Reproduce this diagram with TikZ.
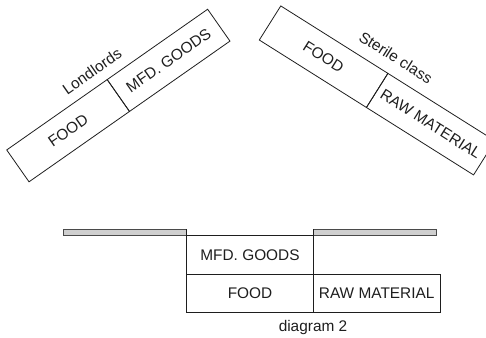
\documentclass[tikz,border=0pt]{standalone}
\usepackage{fontspec}
\setmainfont{Liberation Sans}
\usetikzlibrary{calc}
\definecolor{ink}{HTML}{1E1E1E}
\definecolor{barfill}{HTML}{CFCFCF}
\definecolor{barline}{HTML}{4A4A4A}
\tikzset{
  cell/.style={draw=ink, line width=0.8pt, inner sep=0pt, outer sep=0pt, text=ink,
    font=\fontsize{15.4}{18}\selectfont},
  lbl/.style={inner sep=0pt, text=ink, font=\fontsize{15.4}{18}\selectfont},
  bar/.style={draw=barline, fill=barfill, line width=0.8pt},
  wall/.style={draw=ink, line width=0.8pt}
}
\begin{document}
\begin{tikzpicture}[x=1pt, y=-1pt]
\useasboundingbox (0,0) rectangle (486,337);
\clip (0,0) rectangle (486,337);
% Landlords rotated box
\node[cell, rotate=35, minimum width=122.65pt, minimum height=38.9pt] (lfood) at (68.1,130.7) {FOOD};
\node[cell, rotate=35, minimum width=122.65pt, minimum height=38.9pt, anchor=west] (lmfd) at (lfood.east) {MFD. GOODS};
\node[lbl, rotate=35] (llab) at (92,71.1) {Londlords};
% Sterile class rotated box
\node[cell, rotate=-32.2, minimum width=126.6pt, minimum height=40.3pt] (rfood) at (323.6,56.7) {FOOD};
\node[cell, rotate=-32.2, minimum width=126.6pt, minimum height=40.3pt, anchor=west] (rraw) at (rfood.east) {RAW MATERIAL};
\node[lbl, rotate=-32.2] (rlab) at (396,57.5) {Sterile class};
% bottom diagram
\node[cell, minimum width=126.6pt, minimum height=38.5pt] (bmfd) at (250,254.75) {MFD. GOODS};
\node[cell, minimum width=126.6pt, minimum height=38.3pt] (bfood) at (250,293.15) {FOOD};
\node[cell, minimum width=126.7pt, minimum height=38.3pt] (braw) at (376.65,293.15) {RAW MATERIAL};
\coordinate (ltop) at ($(bmfd.north west)+(0,-6.3)$);
\coordinate (rtop) at ($(bmfd.north east)+(0,-6.3)$);
\draw[bar] (63.3,229.3) rectangle (bmfd.north west);
\draw[bar] (rtop) rectangle (436,235.5);
\draw[wall] (ltop) -- (bmfd.north west);
\draw[wall] (rtop) -- (bmfd.north east);
\node[lbl] (cap) at (313,328) {diagram 2};
\end{tikzpicture}
\end{document}
